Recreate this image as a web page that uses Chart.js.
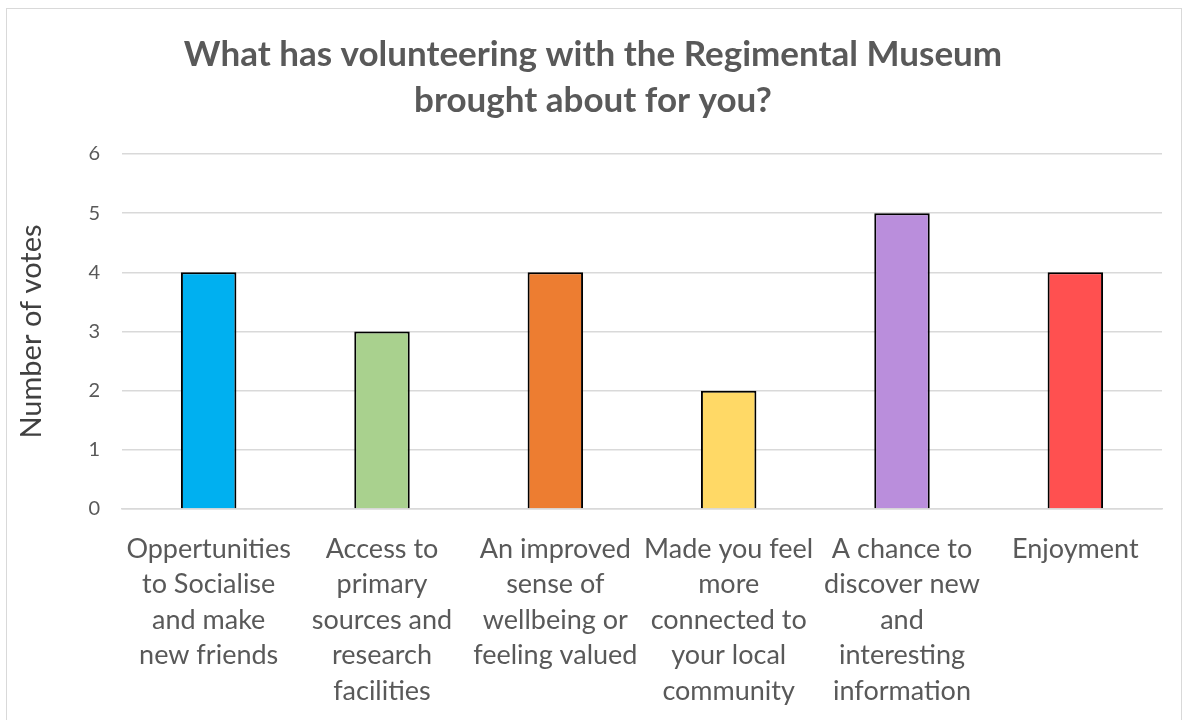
<!DOCTYPE html>
<html lang="en">
<head>
    <meta charset="UTF-8" />
    <title>Regimental Museum volunteering</title>
    <script src="https://cdn.jsdelivr.net/npm/chart.js"></script>
    <style>
        body { margin: 0; background: #fff; }
        .frame { position: absolute; left: 6px; top: 8px; width: 1174px; height: 730px; border: 1.5px solid #d9d9d9; pointer-events: none; }
        #wrap { position: absolute; left: 0; top: 0; width: 1186px; height: 720px; }
    </style>
</head>
<body>
<div id="wrap"><canvas id="votesChart"></canvas></div>
<div class="frame"></div>
<script>
    // data
    const categories = [
        ['Oppertunities', 'to Socialise', 'and make', 'new friends'],
        ['Access to', 'primary', 'sources and', 'research', 'facilities'],
        ['An improved', 'sense of', 'wellbeing or', 'feeling valued'],
        ['Made you feel', 'more', 'connected to', 'your local', 'community'],
        ['A chance to', 'discover new', 'and', 'interesting', 'information'],
        ['Enjoyment']
    ];
    const votes = [4, 3, 4, 2, 5, 4];
    const barColours = ['#00B0F0', '#A9D18E', '#ED7D31', '#FFD966', '#BA8EDC', '#FF5050'];
    const yTicks = [0, 1, 2, 3, 4, 5, 6];

    const font = "Lato, 'Open Sans', sans-serif";

    new Chart(document.getElementById('votesChart'), {
        type: 'bar',
        data: {
            labels: categories,
            datasets: [{
                data: votes,
                backgroundColor: barColours,
                borderColor: '#000000',
                borderWidth: 2,
                barPercentage: 0.32,
                categoryPercentage: 1
            }]
        },
        options: {
            responsive: true,
            maintainAspectRatio: false,
            animation: false,
            layout: { padding: { top: 8, right: 24, left: 24, bottom: 0 } },
            plugins: {
                legend: { display: false },
                tooltip: { enabled: false },
                title: {
                    display: true,
                    text: ['What has volunteering with the Regimental Museum', 'brought about for you?'],
                    color: '#595959',
                    font: { family: font, size: 35, weight: 'bold', lineHeight: 1.3 },
                    padding: { top: 24, bottom: 31 }
                }
            },
            scales: {
                x: {
                    grid: { display: false },
                    border: { color: '#d9d9d9', width: 1.5 },
                    afterFit: (scale) => { scale.height = 211; },
                    ticks: {
                        color: '#595959',
                        font: { family: font, size: 27, lineHeight: 1.32 },
                        maxRotation: 0,
                        autoSkip: false,
                        padding: 14
                    }
                },
                y: {
                    min: 0,
                    max: yTicks[yTicks.length - 1],
                    afterBuildTicks: (scale) => { scale.ticks = yTicks.map(v => ({ value: v })); },
                    afterFit: (scale) => { scale.width = 98; },
                    grid: { color: '#d9d9d9', lineWidth: 1.5, drawTicks: false },
                    border: { display: false },
                    ticks: {
                        color: '#595959',
                        font: { family: font, size: 20 },
                        padding: 22
                    },
                    title: {
                        display: true,
                        text: 'Number of votes',
                        color: '#404040',
                        font: { family: font, size: 29 },
                        padding: { top: -10, bottom: 8 }
                    }
                }
            }
        }
    });
</script>
</body>
</html>
